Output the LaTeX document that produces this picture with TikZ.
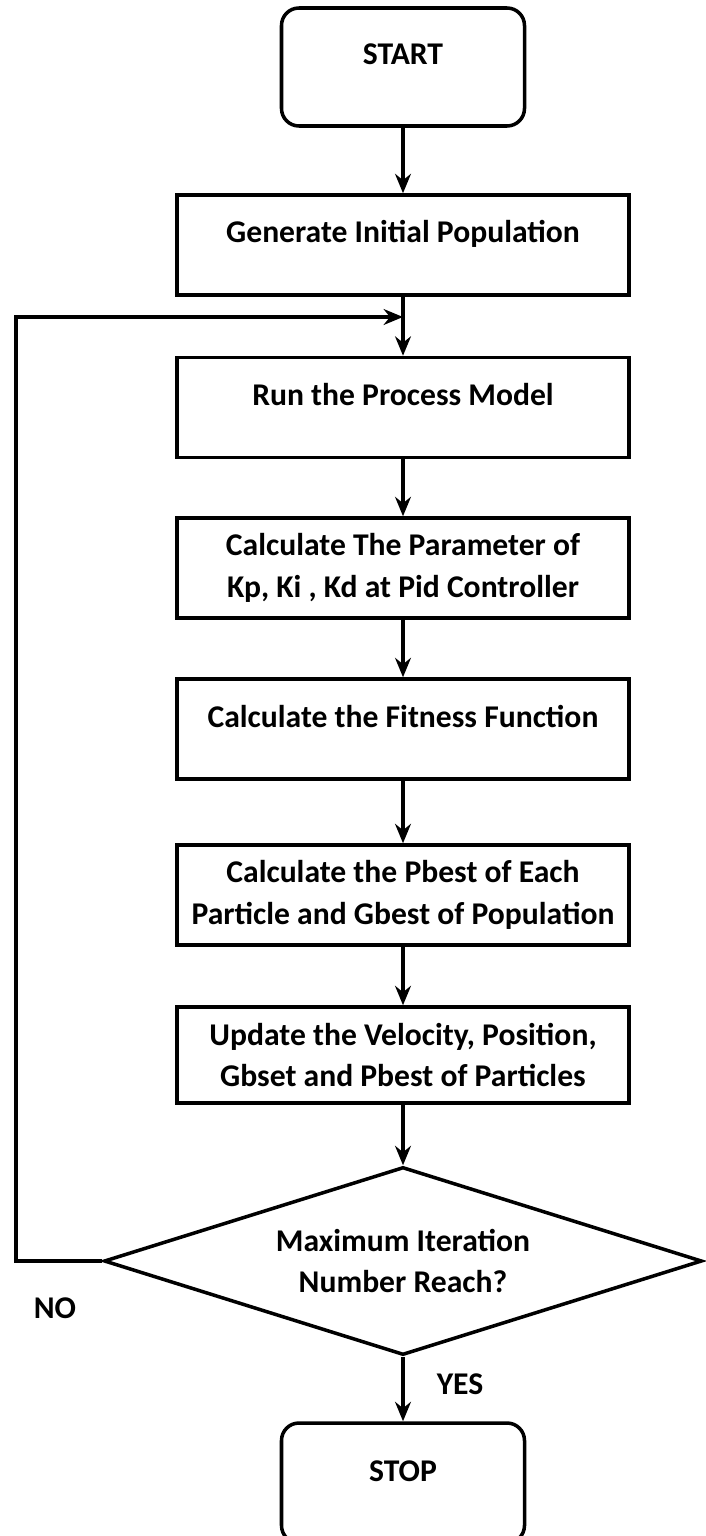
\documentclass[tikz,border=0pt]{standalone}
\usepackage{fontspec}
\setmainfont{Carlito}
\usetikzlibrary{shapes.geometric,arrows.meta}
\tikzset{
    box/.style={draw,line width=2pt,minimum width=9.04cm,minimum height=2cm,align=center},
    term/.style={box,rounded corners=0.35cm,minimum width=4.86cm},
    upper/.style={text height=0.42cm,text depth=0.5cm},
    decide/.style={draw,diamond,line width=2pt,aspect=3.18,minimum width=11.96cm,minimum height=3.76cm,align=center,inner sep=0pt}
}
\begin{document}
\begin{tikzpicture}[line width=2pt,>={Stealth[length=11pt,width=9pt]},font=\fontsize{18}{23.5}\selectfont\bfseries]
    \useasboundingbox(0,0)rectangle(14.12,-30.72);
    \node[term,upper,minimum height=2.36cm](start)at(8.06,-1.34){START};
    \node[box,upper](gen)at(8.06,-4.9){Generate Initial Population};
    \node[box,upper](run)at(8.06,-8.15){Run the Process Model};
    \node[box](par)at(8.06,-11.36){Calculate The Parameter of\\Kp, Ki , Kd at Pid Controller};
    \node[box,upper](fit)at(8.06,-14.58){Calculate the Fitness Function};
    \node[box](best)at(8.06,-17.9){Calculate the Pbest of Each\\Particle and Gbest of Population};
    \node[box,minimum height=1.92cm](upd)at(8.06,-21.1){Update the Velocity, Position,\\Gbset and Pbest of Particles};
    \node[decide](dec)at(8.06,-25.22){Maximum Iteration\\Number Reach?};
    \node[term,upper,minimum height=2.4cm](stop)at(8.06,-29.66){STOP};
    \node(no)at(1.1,-26.16){NO};
    \node(yes)at(9.2,-27.68){YES};
    \coordinate(corner)at(0.32,-6.34);
    \draw[->](start)--(gen);
    \draw[->](gen)--(run);
    \draw[->](run)--(par);
    \draw[->](par)--(fit);
    \draw[->](fit)--(best);
    \draw[->](best)--(upd);
    \draw[->](upd)--(dec);
    \draw[->](dec)--(stop);
    \draw[->](dec.west)-|(corner)--(corner-|gen.south);
\end{tikzpicture}
\end{document}
